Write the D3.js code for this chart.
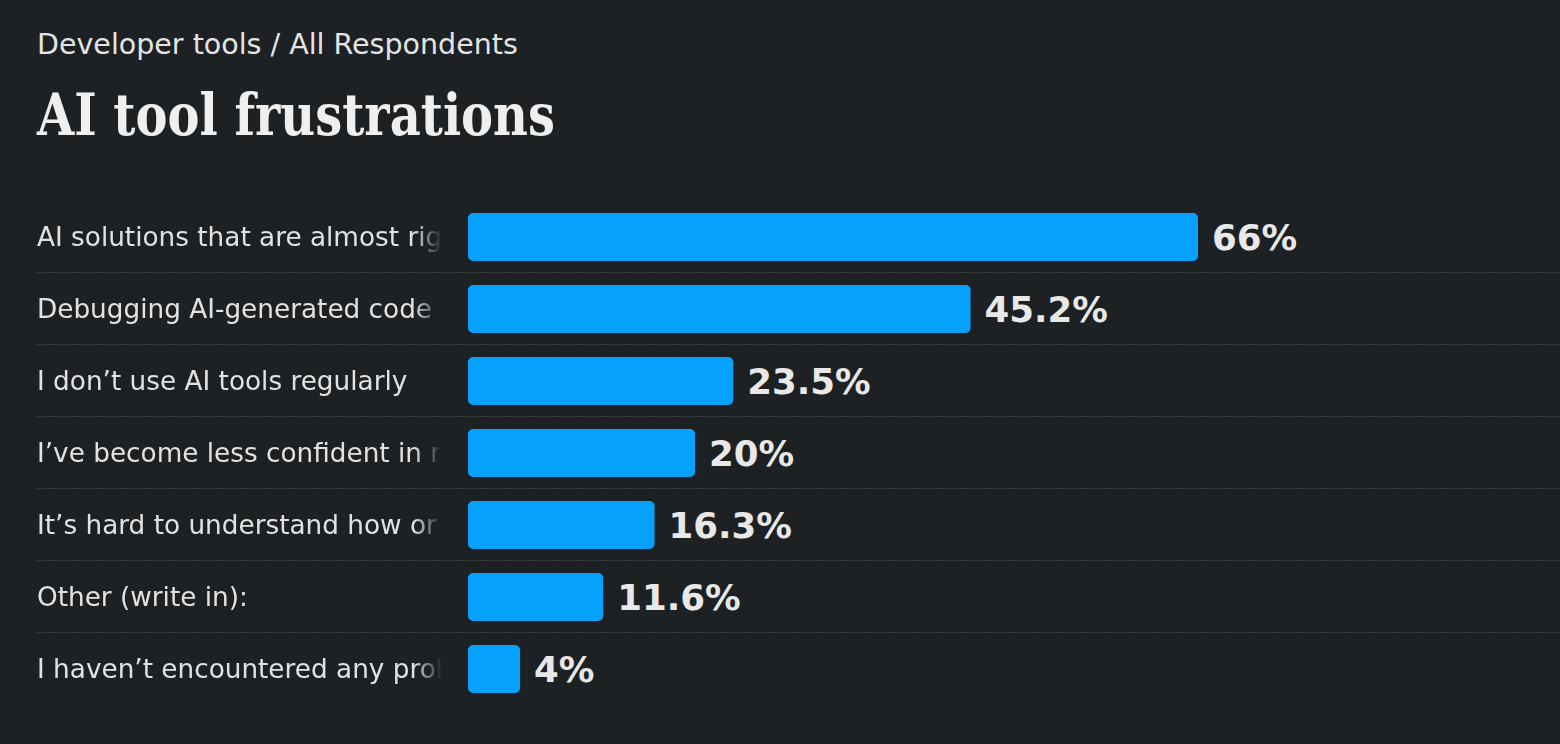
<!DOCTYPE html>
<html>
<head>
<meta charset="utf-8">
<script src="https://cdn.jsdelivr.net/npm/d3@7"></script>
<style>
  html, body { margin: 0; padding: 0; background: #1e2124; }
  svg { display: block; }
</style>
</head>
<body>
<svg id="chart" width="1560" height="744"></svg>
<script>
const subtitle = "Developer tools / All Respondents";
const title = "AI tool frustrations";
const categories = [
  "AI solutions that are almost right, but not quite",
  "Debugging AI-generated code is more time-consuming",
  "I don’t use AI tools regularly",
  "I’ve become less confident in my own problem-solving",
  "It’s hard to understand how or why the code works",
  "Other (write in):",
  "I haven’t encountered any problems"
];
const values = [66, 45.2, 23.5, 20, 16.3, 11.6, 4];
const valueLabels = ["66%", "45.2%", "23.5%", "20%", "16.3%", "11.6%", "4%"];

const W = 1560, H = 744;
const svg = d3.select("#chart");
svg.append("rect").attr("width", W).attr("height", H).attr("fill", "#1e2124");

const labelX = 37, labelEnd = 442;
const defs = svg.append("defs");
const grad = defs.append("linearGradient").attr("id", "fade")
  .attr("gradientUnits", "userSpaceOnUse")
  .attr("x1", 414).attr("x2", labelEnd).attr("y1", 0).attr("y2", 0);
grad.append("stop").attr("offset", 0).attr("stop-color", "#fff").attr("stop-opacity", 1);
grad.append("stop").attr("offset", 1).attr("stop-color", "#fff").attr("stop-opacity", 0);
const mask = defs.append("mask").attr("id", "labelMask").attr("maskUnits", "userSpaceOnUse")
  .attr("x", 0).attr("y", 0).attr("width", W).attr("height", H);
mask.append("rect").attr("x", 0).attr("y", 0).attr("width", labelEnd).attr("height", H).attr("fill", "url(#fade)");

svg.append("text").attr("x", 37).attr("y", 54)
  .attr("font-family", "DejaVu Sans").attr("font-size", 28.5)
  .attr("fill", "#e4e4e4").text(subtitle);

svg.append("text").attr("x", 37).attr("y", 135)
  .attr("font-family", "DejaVu Serif").attr("font-weight", "bold").attr("font-size", 58)
  .attr("font-stretch", "condensed")
  .attr("textLength", 518).attr("lengthAdjust", "spacingAndGlyphs")
  .attr("fill", "#efefef").text(title);

const y = d3.scaleBand().domain(categories).range([201, 705]).paddingInner(0.3333).paddingOuter(0.1667);
const x = d3.scaleLinear().domain([0, 66]).range([476.3, 1198]);
const barX0 = 468;
const gap = y.step() - y.bandwidth();

// separators
svg.append("g").selectAll("line").data(categories.slice(1)).join("line")
  .attr("x1", 36).attr("x2", W)
  .attr("y1", d => y(d) - gap / 2 - 0.5)
  .attr("y2", d => y(d) - gap / 2 - 0.5)
  .attr("stroke", "#3f4245").attr("stroke-width", 1).attr("stroke-dasharray", "2,1");

// labels (truncated to the label column, faded at the edge)
svg.append("g").attr("mask", "url(#labelMask)").selectAll("text").data(categories).join("text")
  .attr("x", labelX).attr("y", d => y(d) + y.bandwidth() / 2)
  .attr("dy", "0.35em")
  .attr("font-family", "DejaVu Sans").attr("font-size", 26.3)
  .attr("fill", "#e2e2e2").text(d => d)
  .each(function(d) {
    const node = this;
    let s = d;
    const maxW = labelEnd - labelX;
    while (s.length > 1) {
      node.textContent = s.slice(0, -1);
      if (node.getComputedTextLength() >= maxW) { s = s.slice(0, -1); } else break;
    }
    node.textContent = s.replace(/\s+$/, "");
  });

// bars
svg.append("g").selectAll("rect").data(values).join("rect")
  .attr("x", barX0).attr("y", (d, i) => y(categories[i]))
  .attr("width", d => x(d) - barX0).attr("height", y.bandwidth())
  .attr("rx", 5).attr("ry", 5).attr("fill", "#06a2fe");

// value labels
svg.append("g").selectAll("text").data(values).join("text")
  .attr("x", d => x(d) + 14).attr("y", (d, i) => y(categories[i]) + y.bandwidth() / 2)
  .attr("dy", "0.36em")
  .attr("font-family", "DejaVu Sans").attr("font-weight", "bold").attr("font-size", 35.6)
  .attr("fill", "#e8e8e8").text((d, i) => valueLabels[i]);
</script>
</body>
</html>
